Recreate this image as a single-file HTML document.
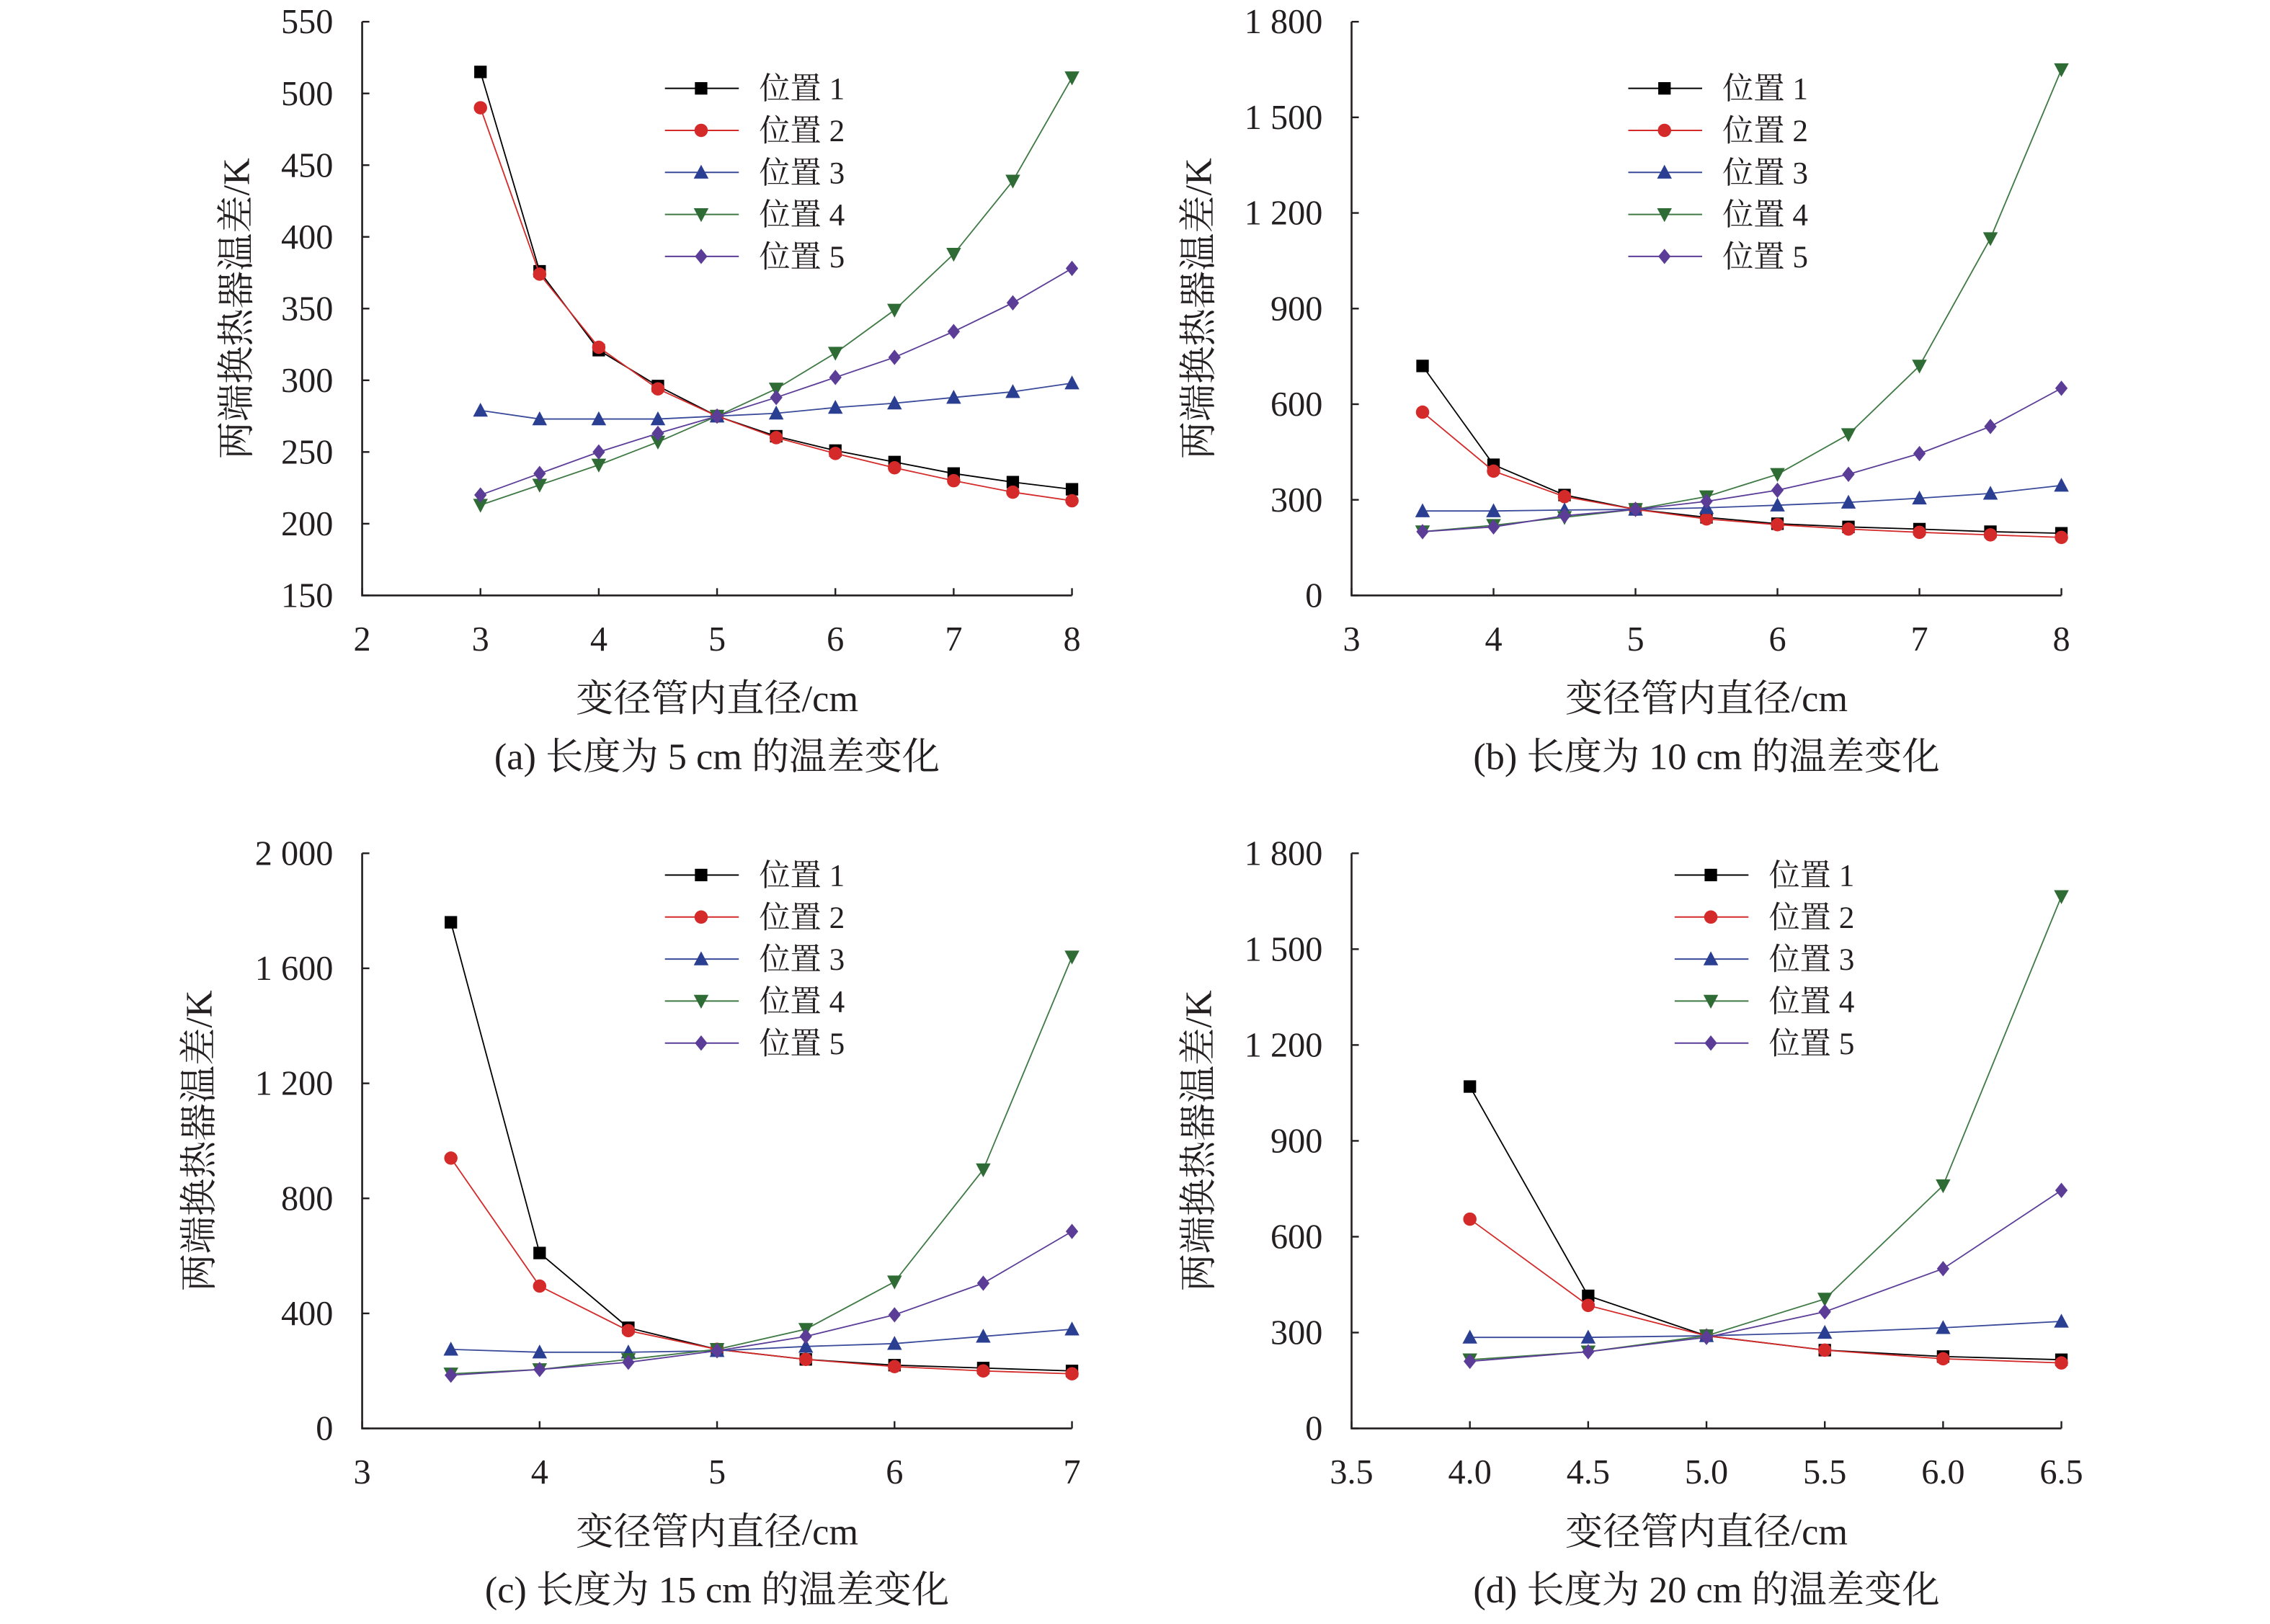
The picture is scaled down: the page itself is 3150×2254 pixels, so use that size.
<!DOCTYPE html>
<html><head><meta charset="utf-8"><style>
html,body{margin:0;padding:0;background:#fff}
svg{display:block}
text{font-family:"Liberation Serif","Noto Serif CJK SC","Noto Sans CJK SC",serif;fill:#231f20}
</style></head><body>
<svg id="fig" width="3150" height="2254" viewBox="0 0 1567 1121" preserveAspectRatio="none" xmlns="http://www.w3.org/2000/svg"></svg>
<script>
// ---- data ----
const xA = [3,3.5,4,4.5,5,5.5,6,6.5,7,7.5,8];
const aP1 = [515,376,321,296,275,261,251,243,235,229,224];
const aP2 = [490,374,323,294,275,260,249,239,230,222,216];
const aP3 = [279,273,273,273,275,277,281,284,288,292,298];
const aP4 = [213,227,241,257,275,294,319,349,388,439,511];
const aP5 = [220,235,250,263,275,288,302,316,334,354,378];
const xB = [3.5,4,4.5,5,5.5,6,6.5,7,7.5,8];
const bP1 = [720,410,315,270,245,225,215,208,200,195];
const bP2 = [575,390,310,270,240,222,208,198,190,182];
const bP3 = [265,265,268,270,275,283,292,305,320,345];
const bP4 = [200,220,245,270,310,380,505,720,1120,1650];
const bP5 = [200,215,250,270,295,330,380,445,530,650];
const xC = [3.5,4,4.5,5,5.5,6,6.5,7];
const cP1 = [1760,610,350,275,240,220,210,200];
const cP2 = [940,495,340,275,240,215,200,190];
const cP3 = [275,265,265,270,285,295,320,345];
const cP4 = [190,205,240,275,345,510,900,1640];
const cP5 = [185,205,230,270,320,395,505,685];
const xD = [4,4.5,5,5.5,6,6.5];
const dP1 = [1070,415,290,245,225,215];
const dP2 = [655,385,290,245,218,205];
const dP3 = [285,285,290,300,315,335];
const dP4 = [215,240,290,405,760,1665];
const dP5 = [210,240,285,365,500,745];
const xTicksA = ["2","3","4","5","6","7","8"];
const yTicksA = ["150","200","250","300","350","400","450","500","550"];
const xTicksB = ["3","4","5","6","7","8"];
const yTicksB = ["0","300","600","900","1 200","1 500","1 800"];
const xTicksC = ["3","4","5","6","7"];
const yTicksC = ["0","400","800","1 200","1 600","2 000"];
const xTicksD = ["3.5","4.0","4.5","5.0","5.5","6.0","6.5"];
const yTicksD = ["0","300","600","900","1 200","1 500","1 800"];
const seriesNames = ["位置 1","位置 2","位置 3","位置 4","位置 5"];

const NS="http://www.w3.org/2000/svg";
const svg=document.getElementById('fig');
function mk(tag,attrs,parent){const e=document.createElementNS(NS,tag);for(const k in attrs)e.setAttribute(k,attrs[k]);(parent||svg).appendChild(e);return e;}
const colors=["#000000","#d42a2a","#2b3f92","#2f6b35","#5b3d98"];
const lineCols=["#000000","#d42a2a","#3a4a9a","#3f7a44","#5b3d98"];

function marker(g,type,x,y,c){
  const s=4.3;let e;
  if(type===0) e=mk('rect',{x:x-s,y:y-s,width:2*s,height:2*s,fill:c},g);
  else if(type===1) e=mk('circle',{cx:x,cy:y,r:s+0.3,fill:c},g);
  else if(type===2) e=mk('polygon',{points:`${x},${y-s-1} ${x-s-0.8},${y+s} ${x+s+0.8},${y+s}`,fill:c},g);
  else if(type===3) e=mk('polygon',{points:`${x},${y+s+1} ${x-s-0.8},${y-s} ${x+s+0.8},${y-s}`,fill:c},g);
  else e=mk('polygon',{points:`${x},${y-s-1} ${x+s},${y} ${x},${y+s+1} ${x-s},${y}`,fill:c},g);
  
  
}

function chart(cfg){
  const g=mk('g',{});
  
  
  const {L,R,T,B,xmin,xmax,ymin,ymax}=cfg;
  const sx=v=>L+(v-xmin)/(xmax-xmin)*(R-L);
  const sy=v=>B-(v-ymin)/(ymax-ymin)*(B-T);
  const ax=mk('path',{d:`M${L},${T} V${B} H${R}`,stroke:"#231f20","stroke-width":1.3,fill:"none"},g);
  
  
  cfg.yt.forEach((t,i)=>{
    const v=ymin+i*(ymax-ymin)/(cfg.yt.length-1), y=sy(v);
    mk('line',{x1:L,x2:L+5,y1:y,y2:y,stroke:"#231f20","stroke-width":1.2},g);
    const tx=mk('text',{x:L-20,y:y+8,"text-anchor":"end","font-size":24},g);tx.textContent=t;
    
    
  });
  cfg.xt.forEach((t,i)=>{
    const v=xmin+i*(xmax-xmin)/(cfg.xt.length-1), x=sx(v);
    mk('line',{x1:x,x2:x,y1:B,y2:B-5,stroke:"#231f20","stroke-width":1.2},g);
    const tx=mk('text',{x:x,y:B+38,"text-anchor":"middle","font-size":24},g);tx.textContent=t;
    
    
  });
  const xt=mk('text',{x:(L+R)/2,y:B+80,"text-anchor":"middle","font-size":26},g);xt.textContent="变径管内直径/cm";
  
  
  const yc=(T+B)/2;
  const yt=mk('text',{x:cfg.ytx,y:yc,"text-anchor":"middle","font-size":26,transform:`rotate(-90 ${cfg.ytx} ${yc})`},g);yt.textContent="两端换热器温差/K";
  
  
  const cap=mk('text',{x:(L+R)/2,y:B+120,"text-anchor":"middle","font-size":26},g);cap.textContent=cfg.caption;
  
  
  cfg.series.forEach((s,k)=>{
    const pts=cfg.xs.map((xv,i)=>`${sx(xv)},${sy(s[i])}`).join(' ');
    const pl=mk('polyline',{points:pts,fill:"none",stroke:lineCols[k],"stroke-width":0.9},g);
    
    
    cfg.xs.forEach((xv,i)=>marker(g,k,sx(xv),sy(s[i]),colors[k]));
  });
  seriesNames.forEach((n,k)=>{
    const y=cfg.ly+k*29;
    const le=mk('g',{},g);
    
    
    mk('line',{x1:cfg.lx,x2:cfg.lx+51,y1:y,y2:y,stroke:lineCols[k],"stroke-width":1},le);
    marker(le,k,cfg.lx+25,y,colors[k]);
    const t=mk('text',{x:cfg.lx+65,y:y+7.5,"font-size":21.5},le);t.textContent=n;
  });
}

chart({name:'chart-a',L:250,R:740,T:15,B:411,xmin:2,xmax:8,ymin:150,ymax:550,xt:xTicksA,yt:yTicksA,xs:xA,series:[aP1,aP2,aP3,aP4,aP5],lx:459,ly:61,ytx:172,caption:"(a) 长度为 5 cm 的温差变化"});
chart({name:'chart-b',L:933,R:1423,T:15,B:411,xmin:3,xmax:8,ymin:0,ymax:1800,xt:xTicksB,yt:yTicksB,xs:xB,series:[bP1,bP2,bP3,bP4,bP5],lx:1124,ly:61,ytx:836,caption:"(b) 长度为 10 cm 的温差变化"});
chart({name:'chart-c',L:250,R:740,T:589,B:986,xmin:3,xmax:7,ymin:0,ymax:2000,xt:xTicksC,yt:yTicksC,xs:xC,series:[cP1,cP2,cP3,cP4,cP5],lx:459,ly:604,ytx:146,caption:"(c) 长度为 15 cm 的温差变化"});
chart({name:'chart-d',L:933,R:1423,T:589,B:986,xmin:3.5,xmax:6.5,ymin:0,ymax:1800,xt:xTicksD,yt:yTicksD,xs:xD,series:[dP1,dP2,dP3,dP4,dP5],lx:1156,ly:604,ytx:836,caption:"(d) 长度为 20 cm 的温差变化"});
</script>
</body></html>
